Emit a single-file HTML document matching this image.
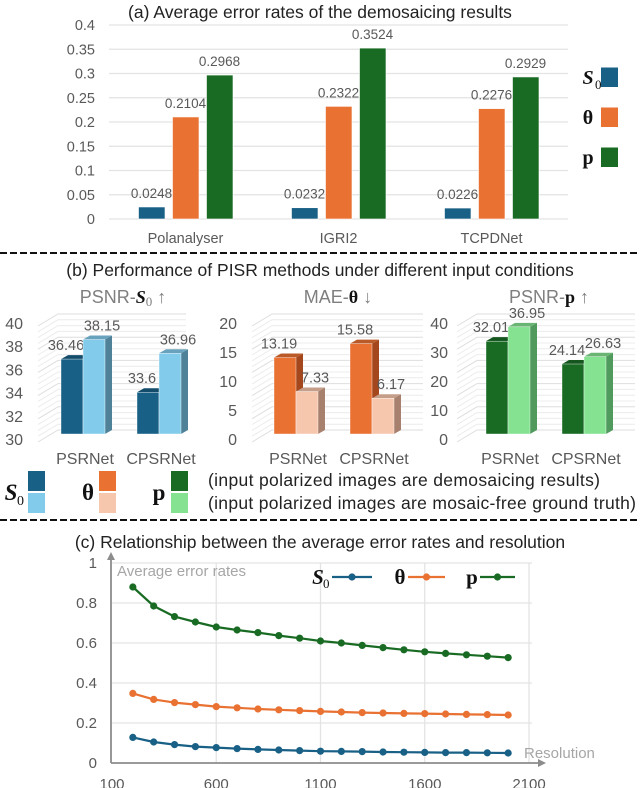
<!DOCTYPE html>
<html><head><meta charset="utf-8">
<style>
html,body{margin:0;padding:0;background:#fff;}
svg{display:block;font-family:"Liberation Sans",sans-serif;}
.sym{font-family:"Liberation Serif",serif;font-weight:bold;fill:#111;}
.sub{font-family:"Liberation Serif",serif;font-weight:normal;fill:#111;}
</style></head>
<body>
<svg id="fig" width="640" height="788" viewBox="0 0 640 788" xmlns="http://www.w3.org/2000/svg">
  <rect x="0" y="0" width="640" height="788" fill="#fff"/>
  <g id="pa"></g>
  <g id="pb"></g>
  <g id="pc"></g>
</svg>
<script>
// ---------- Panel (a) data ----------
const aCategories = ["Polanalyser", "IGRI2", "TCPDNet"];
const aS0 = [0.0248, 0.0232, 0.0226];
const aTheta = [0.2104, 0.2322, 0.2276];
const aP = [0.2968, 0.3524, 0.2929];
const aTicks = [0, 0.05, 0.1, 0.15, 0.2, 0.25, 0.3, 0.35, 0.4];
const aTickLabels = ["0", "0.05", "0.1", "0.15", "0.2", "0.25", "0.3", "0.35", "0.4"];

// ---------- Panel (b) data ----------
const bCategories = ["PSRNet", "CPSRNet"];
const bS0Demosaic = [36.46, 33.6];
const bS0GT = [38.15, 36.96];
const bThetaDemosaic = [13.19, 15.58];
const bThetaGT = [7.33, 6.17];
const bPDemosaic = [32.01, 24.14];
const bPGT = [36.95, 26.63];
const bS0Ticks = [30, 32, 34, 36, 38, 40];
const bThetaTicks = [0, 5, 10, 15, 20];
const bPTicks = [0, 10, 20, 30, 40];

// ---------- Panel (c) data ----------
const cResolution = [200,300,400,500,600,700,800,900,1000,1100,1200,1300,1400,1500,1600,1700,1800,1900,2000];
const cS0 = [0.128,0.105,0.092,0.082,0.077,0.072,0.068,0.065,0.062,0.059,0.058,0.057,0.055,0.054,0.053,0.052,0.052,0.051,0.050];
const cTheta = [0.348,0.318,0.302,0.292,0.282,0.276,0.270,0.266,0.262,0.258,0.255,0.252,0.250,0.248,0.247,0.245,0.243,0.242,0.240];
const cP = [0.880,0.785,0.732,0.705,0.680,0.665,0.652,0.637,0.624,0.610,0.600,0.588,0.577,0.566,0.556,0.548,0.541,0.534,0.527];
const cXTicks = [100, 600, 1100, 1600, 2100];
const cYTicks = [0, 0.2, 0.4, 0.6, 0.8, 1];
const cYTickLabels = ["0", "0.2", "0.4", "0.6", "0.8", "1"];

const NS = "http://www.w3.org/2000/svg";
function mk(parent, tag, attrs, text) {
  const e = document.createElementNS(NS, tag);
  for (const k in attrs) e.setAttribute(k, attrs[k]);
  if (text !== undefined) e.textContent = text;
  parent.appendChild(e);
  return e;
}
const C = {s0:"#196086", th:"#e97132", p:"#196b24", s0l:"#83cbeb", thl:"#f6c6ad", pl:"#84e291", txt:"#595959"};

// ================= Panel A =================
(function(){
  const g = document.getElementById('pa');
  const y0 = 219, pxPerUnit = (219-25)/0.4;
  const ya = v => y0 - v*pxPerUnit;
  const left = 109, right = 568, catW = (right-left)/aCategories.length;
  const t = mk(g,'text',{x:320,y:18,'text-anchor':'middle','font-size':17.5,fill:'#222'},'(a) Average error rates of the demosaicing results');
   
  aTicks.forEach((v,i)=>{
    const l = mk(g,'line',{x1:left,x2:right,y1:ya(v),y2:ya(v),stroke:'#e3e3e3','stroke-width':1.3});
     
    const tl = mk(g,'text',{x:95,y:ya(v)+5,'text-anchor':'end','font-size':14.5,fill:C.txt},aTickLabels[i]);
     
  });
  const series = [[aS0,C.s0,'s0'],[aTheta,C.th,'theta'],[aP,C.p,'p']];
  aCategories.forEach((cat,i)=>{
    const cx = left + catW*(i+0.5);
    series.forEach((s,j)=>{
      const bx = cx - 47 + j*34;
      const v = s[0][i];
      const r = mk(g,'rect',{x:bx,y:ya(v),width:26.5,height:y0-ya(v),fill:s[1],stroke:'#fff','stroke-width':0.6});
       
      const lb = mk(g,'text',{x:bx+13,y:ya(v)-9,'text-anchor':'middle','font-size':13.5,fill:C.txt},String(v));
       
    });
    const xl = mk(g,'text',{x:cx,y:243,'text-anchor':'middle','font-size':14.5,fill:C.txt},cat);
     
  });
  const leg = [['S','0',C.s0,77],['θ','',C.th,117],['p','',C.p,157]];
  leg.forEach(L=>{
    const tx = mk(g,'text',{x:588,y:L[3]+7,'text-anchor':'middle','font-size':20,class:'sym','font-style':L[0]==='S'?'italic':'normal'},L[0]);
     
    if(L[1]){ const sb=mk(g,'text',{x:595,y:L[3]+12,'font-size':13,class:'sub'},L[1]);   }
    const sw = mk(g,'rect',{x:601,y:L[3]-9.5,width:17,height:19.5,fill:L[2]});
     
  });
})();

// ================= Dashed separators =================
(function(){
  const svg = document.getElementById('fig');
  [253,520].forEach(y=>{
    const l = mk(svg,'line',{x1:0,x2:640,y1:y,y2:y,stroke:'#111','stroke-width':2,'stroke-dasharray':'7 3'});
     
  });
})();

// ================= Panel B =================
(function(){
  const g = document.getElementById('pb');
  const t = mk(g,'text',{x:320,y:276,'text-anchor':'middle','font-size':17.5,fill:'#222'},'(b) Performance of PISR methods under different input conditions');
   
  function shade(hex,f){const n=parseInt(hex.slice(1),16);let r=n>>16,gg=(n>>8)&255,b=n&255;return 'rgb('+Math.round(r*f)+','+Math.round(gg*f)+','+Math.round(b*f)+')';}
  const charts = [
    {name:'psnr-s0', d:bS0Demosaic, gt:bS0GT, ticks:bS0Ticks, min:30, max:40, x0:61, labR:23, gs:58, ge:186, c1:C.s0, c2:C.s0l, side1:'#154d69', side2:'#4f8299', title:['PSNR-','S','0',' ↑'], tcx:123},
    {name:'mae-theta', d:bThetaDemosaic, gt:bThetaGT, ticks:bThetaTicks, min:0, max:20, x0:274, labR:237, gs:272, ge:423, c1:C.th, c2:C.thl, side1:'#a5471c', side2:'#a8806e', title:['MAE-','θ','',' ↓'], tcx:338},
    {name:'psnr-p', d:bPDemosaic, gt:bPGT, ticks:bPTicks, min:0, max:40, x0:486, labR:448, gs:477, ge:635, c1:C.p, c2:C.pl, side1:'#124f1a', side2:'#4f9a5c', title:['PSNR-','p','',' ↑'], tcx:549}
  ];
  const base = 434, H = 116, dx = 7, dy = -4, bw = 22;
  charts.forEach(ch=>{
    const ys = v => base - (v-ch.min)/(ch.max-ch.min)*H;
    const yl = v => 439 - (v-ch.min)/(ch.max-ch.min)*H;
    for(let k=0;k<=20;k++){
      const y = base - 4 - k*H/20;
      const l = mk(g,'polyline',{points:(ch.gs-20)+','+(y+12)+' '+ch.gs+','+y+' '+ch.ge+','+y,fill:'none',stroke:k%4===0?'#dedede':'#ececec','stroke-width':1});
       
    }
    ch.ticks.forEach(v=>{
      const tl = mk(g,'text',{x:ch.labR,y:yl(v)+6,'text-anchor':'end','font-size':16,fill:C.txt},String(v));
       
    });
    const tt = mk(g,'text',{x:ch.tcx,y:303,'text-anchor':'middle','font-size':18,fill:'#7f7f7f'});
     
    mk(tt,'tspan',{},ch.title[0]);
    mk(tt,'tspan',{class:'sym',fill:'#7f7f7f','font-style':ch.title[1]==='S'?'italic':'normal'},ch.title[1]);
    if(ch.title[2]) mk(tt,'tspan',{'font-size':13,dy:3,'font-family':'Liberation Serif'},ch.title[2]);
    mk(tt,'tspan',{dy:ch.title[2]?-3:0},ch.title[3]);
    bCategories.forEach((cat,i)=>{
      const gx = ch.x0 + i*76;
      [[ch.d[i],ch.c1,ch.side1,0,'demosaic',-6],[ch.gt[i],ch.c2,ch.side2,bw,'gt',8]].forEach(s=>{
        const x = gx + s[3], top = ys(s[0]);
        const side = mk(g,'polygon',{points:(x+bw)+','+top+' '+(x+bw+dx)+','+(top+dy)+' '+(x+bw+dx)+','+(base+dy)+' '+(x+bw)+','+base,fill:s[2]});
         
        const tp = mk(g,'polygon',{points:x+','+top+' '+(x+dx)+','+(top+dy)+' '+(x+bw+dx)+','+(top+dy)+' '+(x+bw)+','+top,fill:shade(s[1],0.8)});
         
        const fr = mk(g,'rect',{x:x,y:top,width:bw,height:base-top,fill:s[1],stroke:'#ffffff','stroke-width':0.4});
         
        const lb = mk(g,'text',{x:x+bw/2+s[5],y:top-9,'text-anchor':'middle','font-size':14.5,fill:C.txt},String(s[0]));
         
      });
      const xl = mk(g,'text',{x:gx+bw+2,y:464,'text-anchor':'middle','font-size':16,fill:C.txt},cat);
       
    });
  });
  const leg = [['S','0',11,28,C.s0,C.s0l],['θ','',88,99,C.th,C.thl],['p','',159,171,C.p,C.pl]];
  leg.forEach(L=>{
    const tx = mk(g,'text',{x:L[2],y:500,'text-anchor':'middle','font-size':23,class:'sym','font-style':L[0]==='S'?'italic':'normal'},L[0]);
     
    if(L[1]){ const sb=mk(g,'text',{x:L[2]+6,y:505,'font-size':14,class:'sub'},L[1]);   }
    const s1 = mk(g,'rect',{x:L[3],y:471,width:17,height:20,fill:L[4]});
     
    const s2 = mk(g,'rect',{x:L[3],y:493,width:17,height:20,fill:L[5]});
     
  });
  const l1 = mk(g,'text',{x:208,y:486,'font-size':17.5,fill:'#222',textLength:392},'(input polarized images are demosaicing results)');
   
  const l2 = mk(g,'text',{x:208,y:509,'font-size':17.5,fill:'#222',textLength:428},'(input polarized images are mosaic-free ground truth)');
   
})();

// ================= Panel C =================
(function(){
  const g = document.getElementById('pc');
  const xs = v => 112 + (v-100)*0.2085;
  const ys = v => 763 - v*200;
  const t = mk(g,'text',{x:320,y:548,'text-anchor':'middle','font-size':17.5,fill:'#222'},'(c) Relationship between the average error rates and resolution');
   
  cYTicks.forEach((v,i)=>{
    if(v>0){ const l = mk(g,'line',{x1:111,x2:532,y1:ys(v),y2:ys(v),stroke:'#e3e3e3','stroke-width':1.3});   }
    const tl = mk(g,'text',{x:97,y:ys(v)+5,'text-anchor':'end','font-size':15,fill:C.txt},cYTickLabels[i]);
     
  });
  cXTicks.forEach(v=>{
    if(v>100){ const l = mk(g,'line',{x1:xs(v),x2:xs(v),y1:ys(1),y2:763,stroke:'#e3e3e3','stroke-width':1.3});   }
    const tl = mk(g,'text',{x:xs(v),y:789,'text-anchor':'middle','font-size':15,fill:C.txt},String(v));
     
  });
  const ax = mk(g,'line',{x1:111,y1:763,x2:540,y2:763,stroke:'#8c8c8c','stroke-width':1.8});
   
  const axa = mk(g,'polygon',{points:'546,763 538,759 538,767',fill:'#8c8c8c'});
   
  const ay = mk(g,'line',{x1:111,y1:763,x2:111,y2:558,stroke:'#8c8c8c','stroke-width':1.8});
   
  const aya = mk(g,'polygon',{points:'111,552 107,560 115,560',fill:'#8c8c8c'});
   
  const yt = mk(g,'text',{x:117,y:576,'font-size':15,fill:'#a6a6a6'},'Average error rates');
   
  const xt = mk(g,'text',{x:524,y:758,'font-size':15,fill:'#a6a6a6'},'Resolution');
   
  const series = [[cS0,C.s0,'s0'],[cTheta,C.th,'theta'],[cP,C.p,'p']];
  series.forEach(s=>{
    const pts = cResolution.map((r,i)=>xs(r)+','+ys(s[0][i])).join(' ');
    const pl = mk(g,'polyline',{points:pts,fill:'none',stroke:s[1],'stroke-width':2.2,'stroke-linejoin':'round'});
     
    cResolution.forEach((r,i)=>{
      const c = mk(g,'circle',{cx:xs(r),cy:ys(s[0][i]),r:3.6,fill:s[1]});
       
    });
  });
  const leg = [['S','0',C.s0,318,332,372],['θ','',C.th,400,408,445],['p','',C.p,472,480,515]];
  leg.forEach(L=>{
    const tx = mk(g,'text',{x:L[3],y:584,'text-anchor':'middle','font-size':21,class:'sym','font-style':L[0]==='S'?'italic':'normal'},L[0]);
     
    if(L[1]){ const sb=mk(g,'text',{x:L[3]+5,y:588,'font-size':13,class:'sub'},L[1]);   }
    const ll = mk(g,'line',{x1:L[4],x2:L[5],y1:577,y2:577,stroke:L[2],'stroke-width':2.2});
     
    const lc = mk(g,'circle',{cx:(L[4]+L[5])/2,cy:577,r:3.6,fill:L[2]});
     
  });
})();
</script>
</body></html>
